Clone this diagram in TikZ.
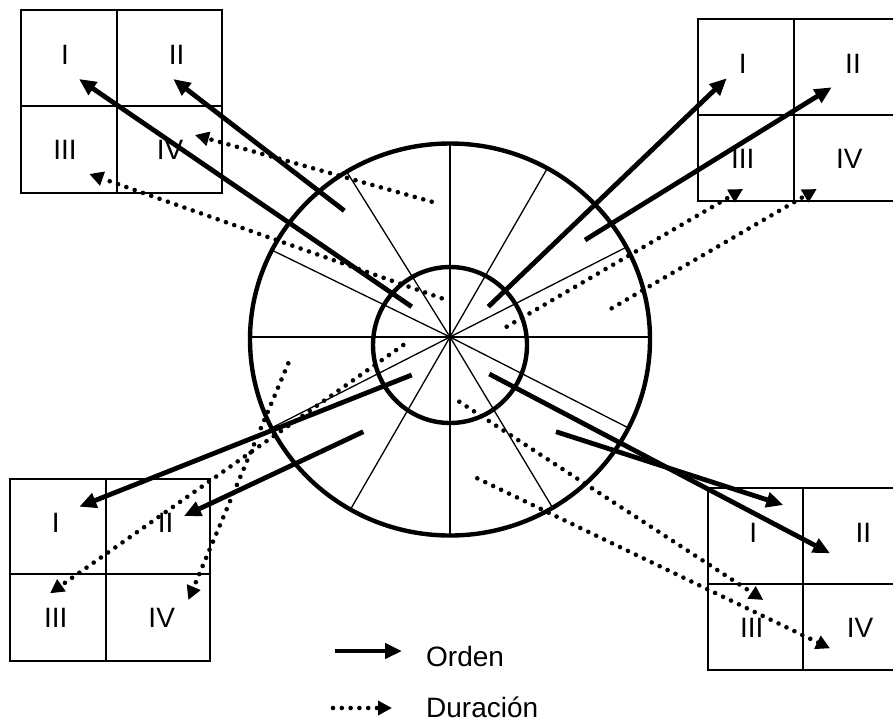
\documentclass[tikz,border=0pt]{standalone}
\usepackage{fontspec}
\setmainfont{Liberation Sans}
\usetikzlibrary{arrows.meta}
\begin{document}
\begin{tikzpicture}[x=1pt,y=-1pt,
  orden/.style={line width=4.8pt,-{Triangle[length=17pt,width=15pt]}},
  durac/.style={line width=4.6pt,line cap=round,dash pattern=on 0pt off 8.8pt,-{Triangle[length=14pt,width=14pt]}},
  gridline/.style={line width=1.9pt},
  ring/.style={line width=4.4pt},
  spoke/.style={line width=1.3pt},
  lab/.style={inner sep=0pt,font=\fontsize{28}{30}\selectfont}]
\useasboundingbox (0,0) rectangle (893,724);
\clip (0,0) rectangle (893,724);

% centre, spokes and rings
\coordinate (c) at (450,337);
\begin{scope}
  \clip (450,339.5) ellipse [x radius=200, y radius=196];
  \foreach \a in {0,27,60,90,122,154,180,207,240,270,301,333}
    \draw[spoke] (c) -- +({300*cos(\a)},{-300*sin(\a)});
\end{scope}
\draw[ring] (450,339.5) ellipse [x radius=200, y radius=196];
\draw[ring] (450,345) ellipse [x radius=77, y radius=78];

% quadrant boxes
\draw[gridline] (21,10) rectangle (222,193) (117,10) -- (117,193) (21,106) -- (222,106);
\draw[gridline] (900,19) -- (698,19) -- (698,201) -- (900,201) (794,19) -- (794,201) (698,115) -- (900,115);
\draw[gridline] (10,479) rectangle (210,661) (106,479) -- (106,661) (10,574) -- (210,574);
\draw[gridline] (900,488) -- (708,488) -- (708,670) -- (900,670) (803,488) -- (803,670) (708,584) -- (900,584);

% labels
\node[lab] (tl1) at (65,55) {I};
\node[lab] (tl2) at (176.7,55) {II};
\node[lab] (tl3) at (65,150) {III};
\node[lab] (tl4) at (170,150) {IV};
\node[lab] (tr1) at (742.7,64) {I};
\node[lab] (tr2) at (853,64) {II};
\node[lab] (tr3) at (742.7,159.3) {III};
\node[lab] (tr4) at (849.3,159.3) {IV};
\node[lab] (bl1) at (55.7,523.3) {I};
\node[lab] (bl2) at (165.7,523) {II};
\node[lab] (bl3) at (55.7,617.7) {III};
\node[lab] (bl4) at (161.7,617.7) {IV};
\node[lab] (br1) at (753.3,533.3) {I};
\node[lab] (br2) at (863.3,533) {II};
\node[lab] (br3) at (751.7,628.3) {III};
\node[lab] (br4) at (860,628) {IV};

% arrow end points
\coordinate (s1) at (411.7,306.7);  \coordinate (e1) at (79,79);
\coordinate (s2) at (344.3,210.7);  \coordinate (e2) at (173.3,79);
\coordinate (s3) at (431.7,201.7);  \coordinate (e3) at (195,135);
\coordinate (s4) at (441.7,298.3);  \coordinate (e4) at (89.3,174);
\coordinate (s5) at (488.3,306.7);  \coordinate (e5) at (726.7,78.3);
\coordinate (s6) at (585,240);      \coordinate (e6) at (831.7,87.3);
\coordinate (s7) at (506.7,326.7);  \coordinate (e7) at (743,189);
\coordinate (s8) at (611.7,308.3);  \coordinate (e8) at (816.7,189);
\coordinate (s9) at (411.7,375);    \coordinate (e9) at (79.3,506.7);
\coordinate (s10) at (363.3,431.7); \coordinate (e10) at (184,516);
\coordinate (s11) at (403.3,345);   \coordinate (e11) at (50,593.3);
\coordinate (s12) at (288.3,363.3); \coordinate (e12) at (188.3,600);
\coordinate (s13) at (489.3,374);   \coordinate (e13) at (830,553.3);
\coordinate (s14) at (556,431.7);   \coordinate (e14) at (783.3,505);
\coordinate (s15) at (459.3,401.7); \coordinate (e15) at (763.3,600);
\coordinate (s16) at (477.3,478.3); \coordinate (e16) at (830,648.3);

\foreach \i in {1,2,5,6,9,10,13,14} \draw[orden] (s\i) -- (e\i);
\foreach \i in {3,4,7,8,11,12,15,16} \draw[durac] (s\i) -- (e\i);

% legend
\coordinate (lo1) at (335,651); \coordinate (lo2) at (402,651);
\draw[orden] (lo1) -- (lo2);
\node[lab,anchor=base west] (lot) at (426,666) {Orden};
\coordinate (ld1) at (333,708); \coordinate (ld2) at (392,708);
\draw[durac] (ld1) -- (ld2);
\node[lab,anchor=base west] (ldt) at (426,717) {Duración};
\end{tikzpicture}
\end{document}
